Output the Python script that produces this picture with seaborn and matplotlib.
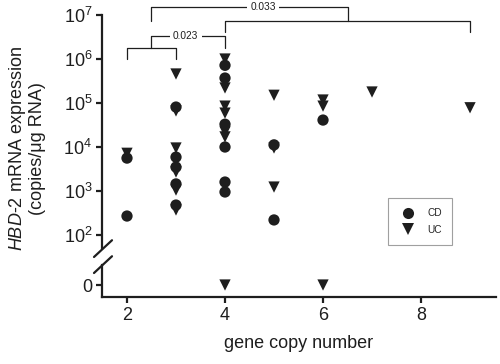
import numpy as np
import pandas as pd
import matplotlib
matplotlib.use("Agg")
import matplotlib.pyplot as plt
import seaborn as sns
from matplotlib.lines import Line2D

# values (copies/ug RNA), 0 = undetectable
cd_copies = [2, 2, 3, 3, 3, 3, 3, 4, 4, 4, 4, 4, 4, 5, 5, 6]
cd_expr = [5600, 270, 81000, 5900, 3500, 1450, 480,
           720000, 370000, 33000, 10000, 1600, 950, 11200, 220, 41000]
uc_copies = [2, 3, 3, 3, 3, 3, 3, 4, 4, 4, 4, 4, 4, 4, 5, 5, 5, 6, 6, 6, 7, 9]
uc_expr = [7200, 457000, 66000, 9500, 2700, 1050, 370,
           1000000, 220000, 85000, 59000, 22000, 17000, 0,
           150000, 9500, 1230, 117000, 85000, 0, 178000, 78000]

groups = ["CD", "UC"]
p_values = ["0.023", "0.033"]
x_ticks = [2, 4, 6, 8]
y_decades = [2, 3, 4, 5, 6, 7]

df = pd.concat([
    pd.DataFrame({"copies": cd_copies, "expr": cd_expr, "group": "CD"}),
    pd.DataFrame({"copies": uc_copies, "expr": uc_expr, "group": "UC"}),
], ignore_index=True)
df_pos = df[df["expr"] > 0]
df_zero = df[df["expr"] == 0]

sns.set_style("ticks")
plt.rcParams["font.family"] = ["Liberation Sans", "DejaVu Sans"]
plt.rcParams["mathtext.fontset"] = "custom"
plt.rcParams["mathtext.rm"] = "Liberation Sans"
plt.rcParams["mathtext.it"] = "Liberation Sans:italic"
plt.rcParams["mathtext.bf"] = "Liberation Sans:bold"

ink = "#1e1e1e"
markers = {"CD": "o", "UC": "v"}

fig = plt.figure(figsize=(5, 3.64), dpi=100)
ax = fig.add_axes([0.204, 0.3187, 0.788, 0.640])
ax0 = fig.add_axes([0.204, 0.184, 0.788, 0.0879])

sns.scatterplot(data=df_pos, x="copies", y="expr", style="group", markers=markers,
                color=ink, s=66, linewidth=0, legend=False, ax=ax)
sns.scatterplot(data=df_zero, x="copies", y="expr", style="group", markers=markers,
                color=ink, s=66, linewidth=0, legend=False, ax=ax0)

xlim = (1.49, 9.53)
ax.set_yscale("log")
ax.set_ylim(10 ** 1.705, 1e7)
ax.set_xlim(*xlim)
ax0.set_xlim(*xlim)
ax0.set_ylim(-12, 20)

ax.set_yticks([10.0 ** d for d in y_decades])
ax.set_yticklabels([r"$10^{%d}$" % d for d in y_decades])
ax.yaxis.set_minor_locator(matplotlib.ticker.NullLocator())
ax.set_xticks([])
ax0.set_yticks([0])
ax0.set_yticklabels(["0"])
ax0.set_xticks(x_ticks)

for s in ["top", "right", "bottom"]:
    ax.spines[s].set_visible(False)
for s in ["top", "right"]:
    ax0.spines[s].set_visible(False)
for a in (ax, ax0):
    a.spines["left"].set_linewidth(1.6)
    a.spines["left"].set_color(ink)
    a.tick_params(axis="both", labelsize=13, colors=ink, width=1.6, length=4, pad=3)
    a.set_xlabel("")
    a.set_ylabel("")
    a.patch.set_alpha(0)
ax0.spines["bottom"].set_linewidth(1.6)
ax0.spines["bottom"].set_color(ink)
ax0.set_xlabel("gene copy number", fontsize=13, color=ink, labelpad=8)

# axis break marks
for yb in (0.294, 0.25):
    fig.add_artist(Line2D([0.188, 0.224], [yb, yb + 0.046], color=ink, lw=1.6))

# y label in two lines
fig.text(0.036, 0.593, r"$\mathit{HBD}$-2 mRNA expression", rotation=90,
         ha="center", va="center", fontsize=13, color=ink)
fig.text(0.076, 0.593, "(copies/μg RNA)", rotation=90,
         ha="center", va="center", fontsize=13, color=ink)

# significance brackets
lk = dict(color=ink, lw=0.9, clip_on=False)
ax.plot([2, 2, 3, 3], [1e6, 10 ** 6.25, 10 ** 6.25, 1e6], **lk)
ax.plot([2.5, 2.5, 4, 4], [10 ** 6.25, 10 ** 6.52, 10 ** 6.52, 10 ** 6.25], **lk)
ax.plot([4, 4, 9, 9], [10 ** 6.61, 10 ** 6.86, 10 ** 6.86, 10 ** 6.61], **lk)
ax.plot([2.5, 2.5, 6.5, 6.5], [10 ** 6.86, 10 ** 7.18, 10 ** 7.18, 10 ** 6.86], **lk)
tb = dict(facecolor="white", edgecolor="none", pad=2.5)
ax.text(3.2, 10 ** 6.52, p_values[0], fontsize=7.3, ha="center", va="center",
        color=ink, bbox=tb, clip_on=False)
ax.text(4.78, 10 ** 7.18, p_values[1], fontsize=7.3, ha="center", va="center",
        color=ink, bbox=tb, clip_on=False)

handles = [Line2D([], [], marker=markers[g], ls="none", color=ink, markersize=8,
                  markeredgewidth=0) for g in groups]
leg = ax.legend(handles, groups, loc="upper left", bbox_to_anchor=(0.776, 0.456),
                bbox_transform=fig.transFigure, borderaxespad=0, fontsize=7.3,
                frameon=True, fancybox=False, borderpad=1.0, labelspacing=0.65,
                handletextpad=0.9, handlelength=2.0)
leg.get_frame().set_edgecolor("#888888")
leg.get_frame().set_linewidth(0.8)

fig.savefig("out.png", dpi=100)
